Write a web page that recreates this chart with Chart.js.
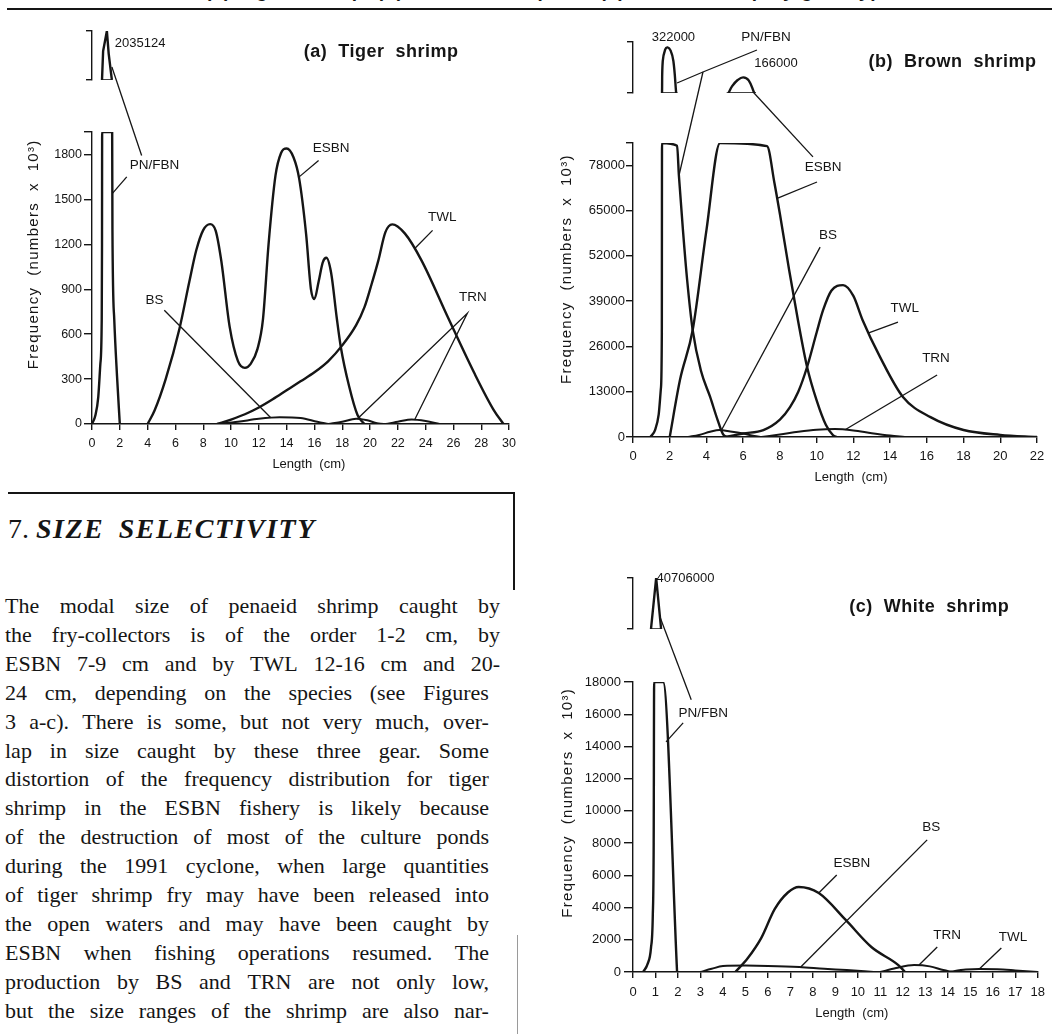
<!DOCTYPE html>
<html>
<head>
<meta charset="utf-8">
<title>Size selectivity</title>
<script src="https://cdn.jsdelivr.net/npm/chart.js@4.4.1/dist/chart.umd.min.js"></script>
<style>
html, body { margin: 0; padding: 0; background: #fff; }
body { position: relative; width: 1052px; height: 1034px; overflow: hidden; color: #151515;
       font-family: "Liberation Serif", "Times New Roman", serif; }
canvas { position: absolute; }
.rule { position: absolute; background: #151515; }
.faint { position: absolute; background: #9a9a9a; }
#cut { position: absolute; left: 205px; top: -20px; font: bold 19px "Liberation Sans", Arial, sans-serif; white-space: nowrap; letter-spacing: 1px; }
#head { position: absolute; left: 8px; top: 514px; font-size: 28px; line-height: 30px; white-space: nowrap; }
#head b { font-style: italic; letter-spacing: 1.5px; word-spacing: 6px; }
.ln { position: absolute; left: 5px; height: 29px; line-height: 29px; font-size: 22px; display: flex; justify-content: space-between; white-space: nowrap; }
</style>
</head>
<body>
<div id="cut">(a) Tiger shrimp, (b) Brown shrimp and (c) White shrimp by gear type</div>
<div class="rule" style="left:7px;top:8px;width:1045px;height:2px"></div>

<canvas id="chartA" width="522" height="470" style="left:0;top:20px"></canvas>
<canvas id="chartB" width="524" height="470" style="left:528px;top:20px"></canvas>
<canvas id="chartC" width="524" height="474" style="left:528px;top:560px"></canvas>

<div class="rule" style="left:8px;top:492px;width:506px;height:2px"></div>
<div class="rule" style="left:513px;top:492px;width:2px;height:98px"></div>
<div class="faint" style="left:517px;top:935px;width:1px;height:99px"></div>

<div id="head">7. <b>SIZE SELECTIVITY</b></div>
<div id="para"></div>

<script>
// ---------- (a) Tiger shrimp ----------
const tigerX = [0, 2, 4, 6, 8, 10, 12, 14, 16, 18, 20, 22, 24, 26, 28, 30];
const tigerYTicks = [0, 300, 600, 900, 1200, 1500, 1800];
const tigerCut = 1950;          // top of the lower axis piece
const tigerPeak = 2035124;      // top of the upper axis piece
const tigerPN = [[0, 0], [0.25, 60], [0.45, 180], [0.6, 400], [0.7, 700], [0.72, 1200], [0.73, 1950],
  [1.45, 1950], [1.47, 1300], [1.6, 700], [1.8, 320], [2.0, 0]];
const tigerPNTop = [[0.72, 1950], [0.8, 1200000], [1.07, 2035124], [1.2, 1100000], [1.43, 1950]];
const tigerPNBase = [[0.72, 1950], [1.43, 1950]];
const tigerESBN = [[4.0, 0], [4.5, 90], [5.3, 300], [6.3, 640], [7.0, 950], [7.5, 1160], [8.0, 1295],
  [8.5, 1335], [8.9, 1290], [9.3, 1090], [9.9, 650], [10.5, 420], [11.0, 375], [11.4, 400], [11.9, 500],
  [12.3, 700], [12.7, 1200], [13.2, 1660], [13.6, 1810], [14.0, 1840], [14.5, 1780], [14.9, 1640],
  [15.4, 1270], [15.75, 900], [16.0, 835], [16.3, 950], [16.6, 1080], [16.86, 1110], [17.2, 1010],
  [17.6, 713], [17.9, 513], [18.5, 250], [19.1, 60], [19.6, 0]];
const tigerTWL = [[9.0, 0], [10.0, 30], [11.0, 65], [12.0, 110], [13.0, 165], [14.0, 225], [15.0, 285],
  [16.0, 345], [17.0, 420], [18.0, 525], [19.0, 660], [19.6, 780], [20.1, 930], [20.6, 1093], [21.1, 1280],
  [21.6, 1333], [22.5, 1273], [23.7, 1093], [25.6, 713], [27.5, 340], [28.9, 93], [29.6, 0]];
const tigerBS = [[9.0, 0], [10.5, 15], [12.0, 35], [13.5, 45], [15.0, 40], [16.2, 15], [17.0, 0]];
const tigerTRN = [[17.0, 0], [18.0, 15], [19.0, 35], [19.8, 25], [20.5, 5], [21.0, 0], [22.0, 15],
  [23.0, 30], [24.0, 20], [25.0, 0]];

// ---------- (b) Brown shrimp ----------
const brownX = [0, 2, 4, 6, 8, 10, 12, 14, 16, 18, 20, 22];
const brownYTicks = [0, 13000, 26000, 39000, 52000, 65000, 78000];
const brownCut = 84400;
const brownTopMax = 350000;
const brownPN = [[0.95, 0], [1.2, 2000], [1.4, 6500], [1.52, 14000], [1.57, 30000], [1.58, 84400],
  [2.4, 83600], [2.5, 75000], [2.72, 59400], [2.95, 45000], [3.25, 30700], [3.7, 19000], [4.2, 11500],
  [4.6, 5000], [4.9, 800], [5.1, 0]];
const brownPNTop = [[1.58, 84400], [1.62, 250000], [1.75, 310000], [1.88, 322000], [2.05, 305000],
  [2.2, 250000], [2.35, 84400]];
const brownPNBase = [[1.55, 84400], [2.42, 84400]];
const brownESBN = [[2.0, 0], [2.56, 16400], [3.25, 30700], [4.0, 59400], [4.74, 84400], [7.3, 83500],
  [7.7, 73000], [8.0, 64000], [8.5, 48000], [9.0, 33000], [9.48, 20100], [10.0, 10500], [10.5, 3500],
  [10.9, 500], [11.1, 0]];
const brownESBNTop = [[5.2, 84400], [5.4, 120000], [5.7, 152000], [6.0, 166000], [6.3, 150000], [6.6, 84400]];
const brownESBNBase = [[5.1, 84400], [6.7, 84400]];
const brownBS = [[3.0, 0], [3.6, 600], [4.2, 1500], [4.7, 2000], [5.3, 1600], [6.0, 1000], [6.6, 300], [7.0, 0]];
const brownTRN = [[7.0, 0], [8.0, 700], [9.0, 1500], [10.0, 2100], [11.0, 2300], [12.0, 1900], [13.0, 1100],
  [14.0, 400], [14.8, 0]];
const brownTWL = [[5.0, 0], [6.0, 1000], [7.1, 2000], [8.0, 5000], [8.55, 8600], [9.0, 13000], [9.48, 20100],
  [10.0, 30000], [10.35, 36400], [10.8, 42000], [11.44, 43600], [12.0, 40500], [12.5, 33600],
  [13.45, 23000], [14.7, 11500], [16.2, 5700], [18.0, 2000], [20.0, 600], [22.0, 0]];

// ---------- (c) White shrimp ----------
const whiteX = [0, 1, 2, 3, 4, 5, 6, 7, 8, 9, 10, 11, 12, 13, 14, 15, 16, 17, 18];
const whiteYTicks = [0, 2000, 4000, 6000, 8000, 10000, 12000, 14000, 16000, 18000];
const whiteCut = 18000;
const whitePeak = 40706000;
const whitePN = [[0.45, 0], [0.65, 500], [0.8, 1500], [0.88, 3500], [0.92, 8000], [0.94, 18000],
  [1.34, 18000], [1.96, 0]];
const whitePNTop = [[0.8, 18000], [1.03, 40706000], [1.25, 18000]];
const whitePNBase = [[0.8, 18000], [1.25, 18000]];
const whiteESBN = [[4.55, 0], [5.1, 850], [5.7, 2100], [6.3, 3900], [6.9, 4950], [7.37, 5280], [8.26, 4900],
  [9.46, 3230], [10.6, 1550], [11.8, 430], [12.1, 0]];
const whiteBS = [[3.0, 0], [3.5, 200], [4.0, 370], [5.0, 400], [6.0, 380], [7.4, 310], [8.5, 200],
  [9.5, 120], [10.7, 0]];
const whiteTRN = [[11.0, 0], [11.7, 250], [12.5, 430], [13.2, 350], [13.8, 120], [14.2, 0]];
const whiteTWL = [[14.0, 0], [14.8, 150], [15.4, 190], [16.2, 170], [17.0, 100], [18.0, 0]];

// ---------- text ----------
const paraLines = [
  'The modal size of penaeid shrimp caught by',
  'the fry-collectors is of the order 1-2 cm, by',
  'ESBN 7-9 cm and by TWL 12-16 cm and 20-',
  '24 cm, depending on the species (see Figures',
  '3 a-c). There is some, but not very much, over-',
  'lap in size caught by these three gear. Some',
  'distortion of the frequency distribution for tiger',
  'shrimp in the ESBN fishery is likely because',
  'of the destruction of most of the culture ponds',
  'during the 1991 cyclone, when large quantities',
  'of tiger shrimp fry may have been released into',
  'the open waters and may have been caught by',
  'ESBN when fishing operations resumed. The',
  'production by BS and TRN are not only low,',
  'but the size ranges of the shrimp are also nar-'
];

const para = document.getElementById('para');
paraLines.forEach(function (ln, i) {
  var d = document.createElement('div');
  d.className = 'ln';
  d.style.top = (591 + i * 28.9) + 'px';
  d.style.width = (i < 3 ? 495 : 484) + 'px';
  ln.split(' ').forEach(function (w) {
    var s = document.createElement('span');
    s.textContent = w;
    d.appendChild(s);
  });
  para.appendChild(d);
});

const INK = '#151515';
const SANS = '"Liberation Sans", Arial, sans-serif';
const YTITLE = 'Frequency  (numbers  x  10\u00B3)';

// labels and leader lines, placed in data units of the given axis
function notesPlugin(notes) {
  return {
    id: 'notes',
    afterDraw: function (chart) {
      var ctx = chart.ctx, sx = chart.scales.x;
      var at = function (q) {
        return [sx.getPixelForValue(q[0]), chart.scales[q[2] || 'y'].getPixelForValue(q[1])];
      };
      ctx.save();
      ctx.strokeStyle = INK;
      ctx.lineWidth = 1.3;
      notes.leaders.forEach(function (seg) {
        ctx.beginPath();
        seg.forEach(function (q, i) {
          var p = at(q);
          if (i) ctx.lineTo(p[0], p[1]); else ctx.moveTo(p[0], p[1]);
        });
        ctx.stroke();
      });
      ctx.fillStyle = INK;
      ctx.textBaseline = 'middle';
      notes.texts.forEach(function (t) {
        var p = at(t.at);
        ctx.font = t.font || ('13.5px ' + SANS);
        ctx.textAlign = t.align || 'center';
        ctx.letterSpacing = t.ls || '0px';
        if (t.rot) {
          ctx.save();
          ctx.translate(p[0], p[1]);
          ctx.rotate(-Math.PI / 2);
          ctx.fillText(t.text, 0, 0);
          ctx.restore();
        } else {
          ctx.fillText(t.text, p[0], p[1]);
        }
      });
      ctx.restore();
    }
  };
}

function makePanel(id, p) {
  var datasets = p.series.map(function (s) {
    return {
      data: s.pts.map(function (q) { return { x: q[0], y: q[1] }; }),
      yAxisID: s.axis || 'y',
      borderColor: INK,
      borderWidth: s.lw || 2.4,
      pointRadius: 0,
      fill: false,
      tension: s.mode === 'curve' ? 0.4 : 0,
      cubicInterpolationMode: s.mode === 'mono' ? 'monotone' : 'default'
    };
  });
  var tickFont = { family: SANS, size: p.tickSize };
  var setW = function (s) { s.width = p.yWidth; };
  var axisGrid = function (len) {
    return { display: true, drawOnChartArea: false, drawTicks: true, tickLength: len, color: INK, lineWidth: 1.4 };
  };

  return new Chart(document.getElementById(id).getContext('2d'), {
    type: 'line',
    data: { datasets: datasets },
    options: {
      responsive: false,
      animation: false,
      events: [],
      layout: { padding: { left: 0, top: p.padTop, right: p.padRight, bottom: 0 } },
      plugins: { legend: { display: false }, tooltip: { enabled: false } },
      scales: {
        x: {
          type: 'linear', min: p.xTicks[0], max: p.xTicks[p.xTicks.length - 1],
          afterBuildTicks: function (s) { s.ticks = p.xTicks.map(function (v) { return { value: v }; }); },
          ticks: { autoSkip: false, maxRotation: 0, padding: p.xPad, color: INK, font: tickFont,
                   callback: function (v) { return String(v); } },
          grid: axisGrid(6),
          border: { display: true, color: INK, width: 1.4 },
          afterFit: function (s) { s.height = p.xHeight; }
        },
        y: {
          type: 'linear', position: 'left', stack: 'p', stackWeight: p.weights[0],
          min: 0, max: p.cut,
          afterBuildTicks: function (s) {
            s.ticks = p.yTicks.concat(p.yTicks.indexOf(p.cut) < 0 ? [p.cut] : [])
              .map(function (v) { return { value: v }; });
          },
          ticks: { autoSkip: false, padding: p.yPad, color: INK, font: tickFont,
                   callback: function (v) { return p.yTicks.indexOf(v) < 0 ? '' : String(v); } },
          grid: axisGrid(p.yTickLen),
          border: { display: true, color: INK, width: 1.4 },
          afterFit: setW
        },
        yGap: {
          type: 'linear', position: 'left', stack: 'p', stackWeight: p.weights[1],
          ticks: { display: false }, grid: { display: false }, border: { display: false },
          afterFit: setW
        },
        yTop: {
          type: 'linear', position: 'left', stack: 'p', stackWeight: p.weights[2],
          min: p.cut, max: p.topMax,
          afterBuildTicks: function (s) { s.ticks = [{ value: p.cut }, { value: p.topMax }]; },
          ticks: { autoSkip: false, padding: 0, font: tickFont, callback: function () { return ''; } },
          grid: axisGrid(6),
          border: { display: true, color: INK, width: 1.4 },
          afterFit: setW
        }
      }
    },
    plugins: [notesPlugin(p)]
  });
}

var lab = function (txt, x, y, axis, extra) {
  var o = { text: txt, at: [x, y, axis || 'y'] };
  for (var k in (extra || {})) o[k] = extra[k];
  return o;
};
var TITLE = { font: 'bold 18px ' + SANS, ls: '0.5px' };
var NUM = { font: '13px ' + SANS };
var YT = { font: '15px ' + SANS, ls: '1.3px', rot: true };
var XT = { font: '13px ' + SANS };

// (a)
makePanel('chartA', {
  yWidth: 92, padTop: 11, padRight: 10, xHeight: 66, weights: [292, 52, 49],
  xTicks: tigerX, yTicks: tigerYTicks, cut: tigerCut, topMax: tigerPeak,
  tickSize: 12.5, xPad: 6, yPad: 2, yTickLen: 8,
  series: [
    { pts: tigerPN, mode: 'mono' }, { pts: tigerPNTop, axis: 'yTop' }, { pts: tigerPNBase, axis: 'yTop', lw: 1.6 },
    { pts: tigerESBN, mode: 'mono' }, { pts: tigerTWL, mode: 'mono' },
    { pts: tigerBS, mode: 'mono', lw: 2 }, { pts: tigerTRN, mode: 'mono', lw: 2 }
  ],
  texts: [
    lab('(a)  Tiger  shrimp', 20.8, 1164000, 'yTop', TITLE),
    lab('2035124', 1.64, 1537000, 'yTop', { font: '13px ' + SANS, align: 'left' }),
    lab('PN/FBN', 4.5, 1727), lab('ESBN', 17.2, 1840), lab('TWL', 25.2, 1380),
    lab('TRN', 27.4, 847), lab('BS', 4.5, 827),
    lab(YTITLE, -4.2, 1133, 'y', YT),
    lab('Length  (cm)', 15.6, -273, 'y', XT)
  ],
  leaders: [
    [[1.43, 541000, 'yTop'], [3.57, 1793]],
    [[1.47, 1540], [2.5, 1650]],
    [[14.86, 1647], [16.3, 1760]],
    [[23.2, 1170], [24.5, 1293]],
    [[19.1, 35], [27.0, 740], [23.2, 27]],
    [[5.2, 760], [12.86, 42]]
  ]
});

// (b)
makePanel('chartB', {
  yWidth: 105, padTop: 22, padRight: 15, xHeight: 53, weights: [294, 50, 51],
  xTicks: brownX, yTicks: brownYTicks, cut: brownCut, topMax: brownTopMax,
  tickSize: 13, xPad: 6, yPad: 1, yTickLen: 7,
  series: [
    { pts: brownPN, mode: 'mono' }, { pts: brownPNTop, axis: 'yTop', mode: 'curve' },
    { pts: brownPNBase, axis: 'yTop', lw: 1.6 },
    { pts: brownESBN, mode: 'mono' }, { pts: brownESBNTop, axis: 'yTop', mode: 'curve' },
    { pts: brownESBNBase, axis: 'yTop', lw: 1.6 },
    { pts: brownTWL, mode: 'mono' }, { pts: brownBS, mode: 'mono', lw: 2 }, { pts: brownTRN, mode: 'mono', lw: 2 }
  ],
  texts: [
    lab('(b)  Brown  shrimp', 17.4, 245850, 'yTop', TITLE),
    lab('322000', 2.2, 376000, 'yTop', NUM),
    lab('PN/FBN', 7.24, 376000, 'yTop'),
    lab('166000', 7.79, 240600, 'yTop', NUM),
    lab('ESBN', 10.35, 77500), lab('BS', 10.62, 58000), lab('TWL', 14.8, 37000), lab('TRN', 16.5, 22700),
    lab(YTITLE, -3.6, 48200, 'y', YT),
    lab('Length  (cm)', 11.87, -11500, 'y', XT)
  ],
  leaders: [
    [[2.4, 136500, 'yTop'], [3.81, 193800, 'yTop'], [6.75, 308300, 'yTop']],
    [[3.81, 193800, 'yTop'], [2.5, 75000]],
    [[6.54, 89600, 'yTop'], [9.8, 80400]],
    [[10.02, 73200], [7.85, 68500]],
    [[10.19, 54500], [4.8, 1800]],
    [[14.43, 33000], [12.8, 29800]],
    [[16.56, 17800], [11.55, 2100]]
  ]
});

// (c)
makePanel('chartC', {
  yWidth: 105, padTop: 18, padRight: 14, xHeight: 62, weights: [290, 53, 51],
  xTicks: whiteX, yTicks: whiteYTicks, cut: whiteCut, topMax: whitePeak,
  tickSize: 13, xPad: 7, yPad: 3, yTickLen: 9,
  series: [
    { pts: whitePN, mode: 'mono' }, { pts: whitePNTop, axis: 'yTop' }, { pts: whitePNBase, axis: 'yTop', lw: 1.6 },
    { pts: whiteESBN, mode: 'mono' }, { pts: whiteBS, mode: 'mono', lw: 2 },
    { pts: whiteTRN, mode: 'mono', lw: 2 }, { pts: whiteTWL, mode: 'mono', lw: 2 }
  ],
  texts: [
    lab('(c)  White  shrimp', 13.17, 17570000, 'yTop', TITLE),
    lab('40706000', 1.05, 40706000, 'yTop', { font: '13px ' + SANS, align: 'left' }),
    lab('PN/FBN', 3.12, 16080), lab('ESBN', 9.73, 6770), lab('BS', 13.26, 9000),
    lab('TRN', 13.97, 2300), lab('TWL', 16.9, 2170),
    lab(YTITLE, -2.9, 10500, 'y', YT),
    lab('Length  (cm)', 9.73, -2546, 'y', XT)
  ],
  leaders: [
    [[1.2, 9590000, 'yTop'], [2.59, 16900]],
    [[2.23, 15460], [1.47, 14280]],
    [[8.26, 4900], [9.06, 6020]],
    [[13.08, 8200], [7.46, 310]],
    [[13.53, 1550], [12.72, 430]],
    [[16.38, 1490], [15.4, 190]]
  ]
});
</script>
</body>
</html>
